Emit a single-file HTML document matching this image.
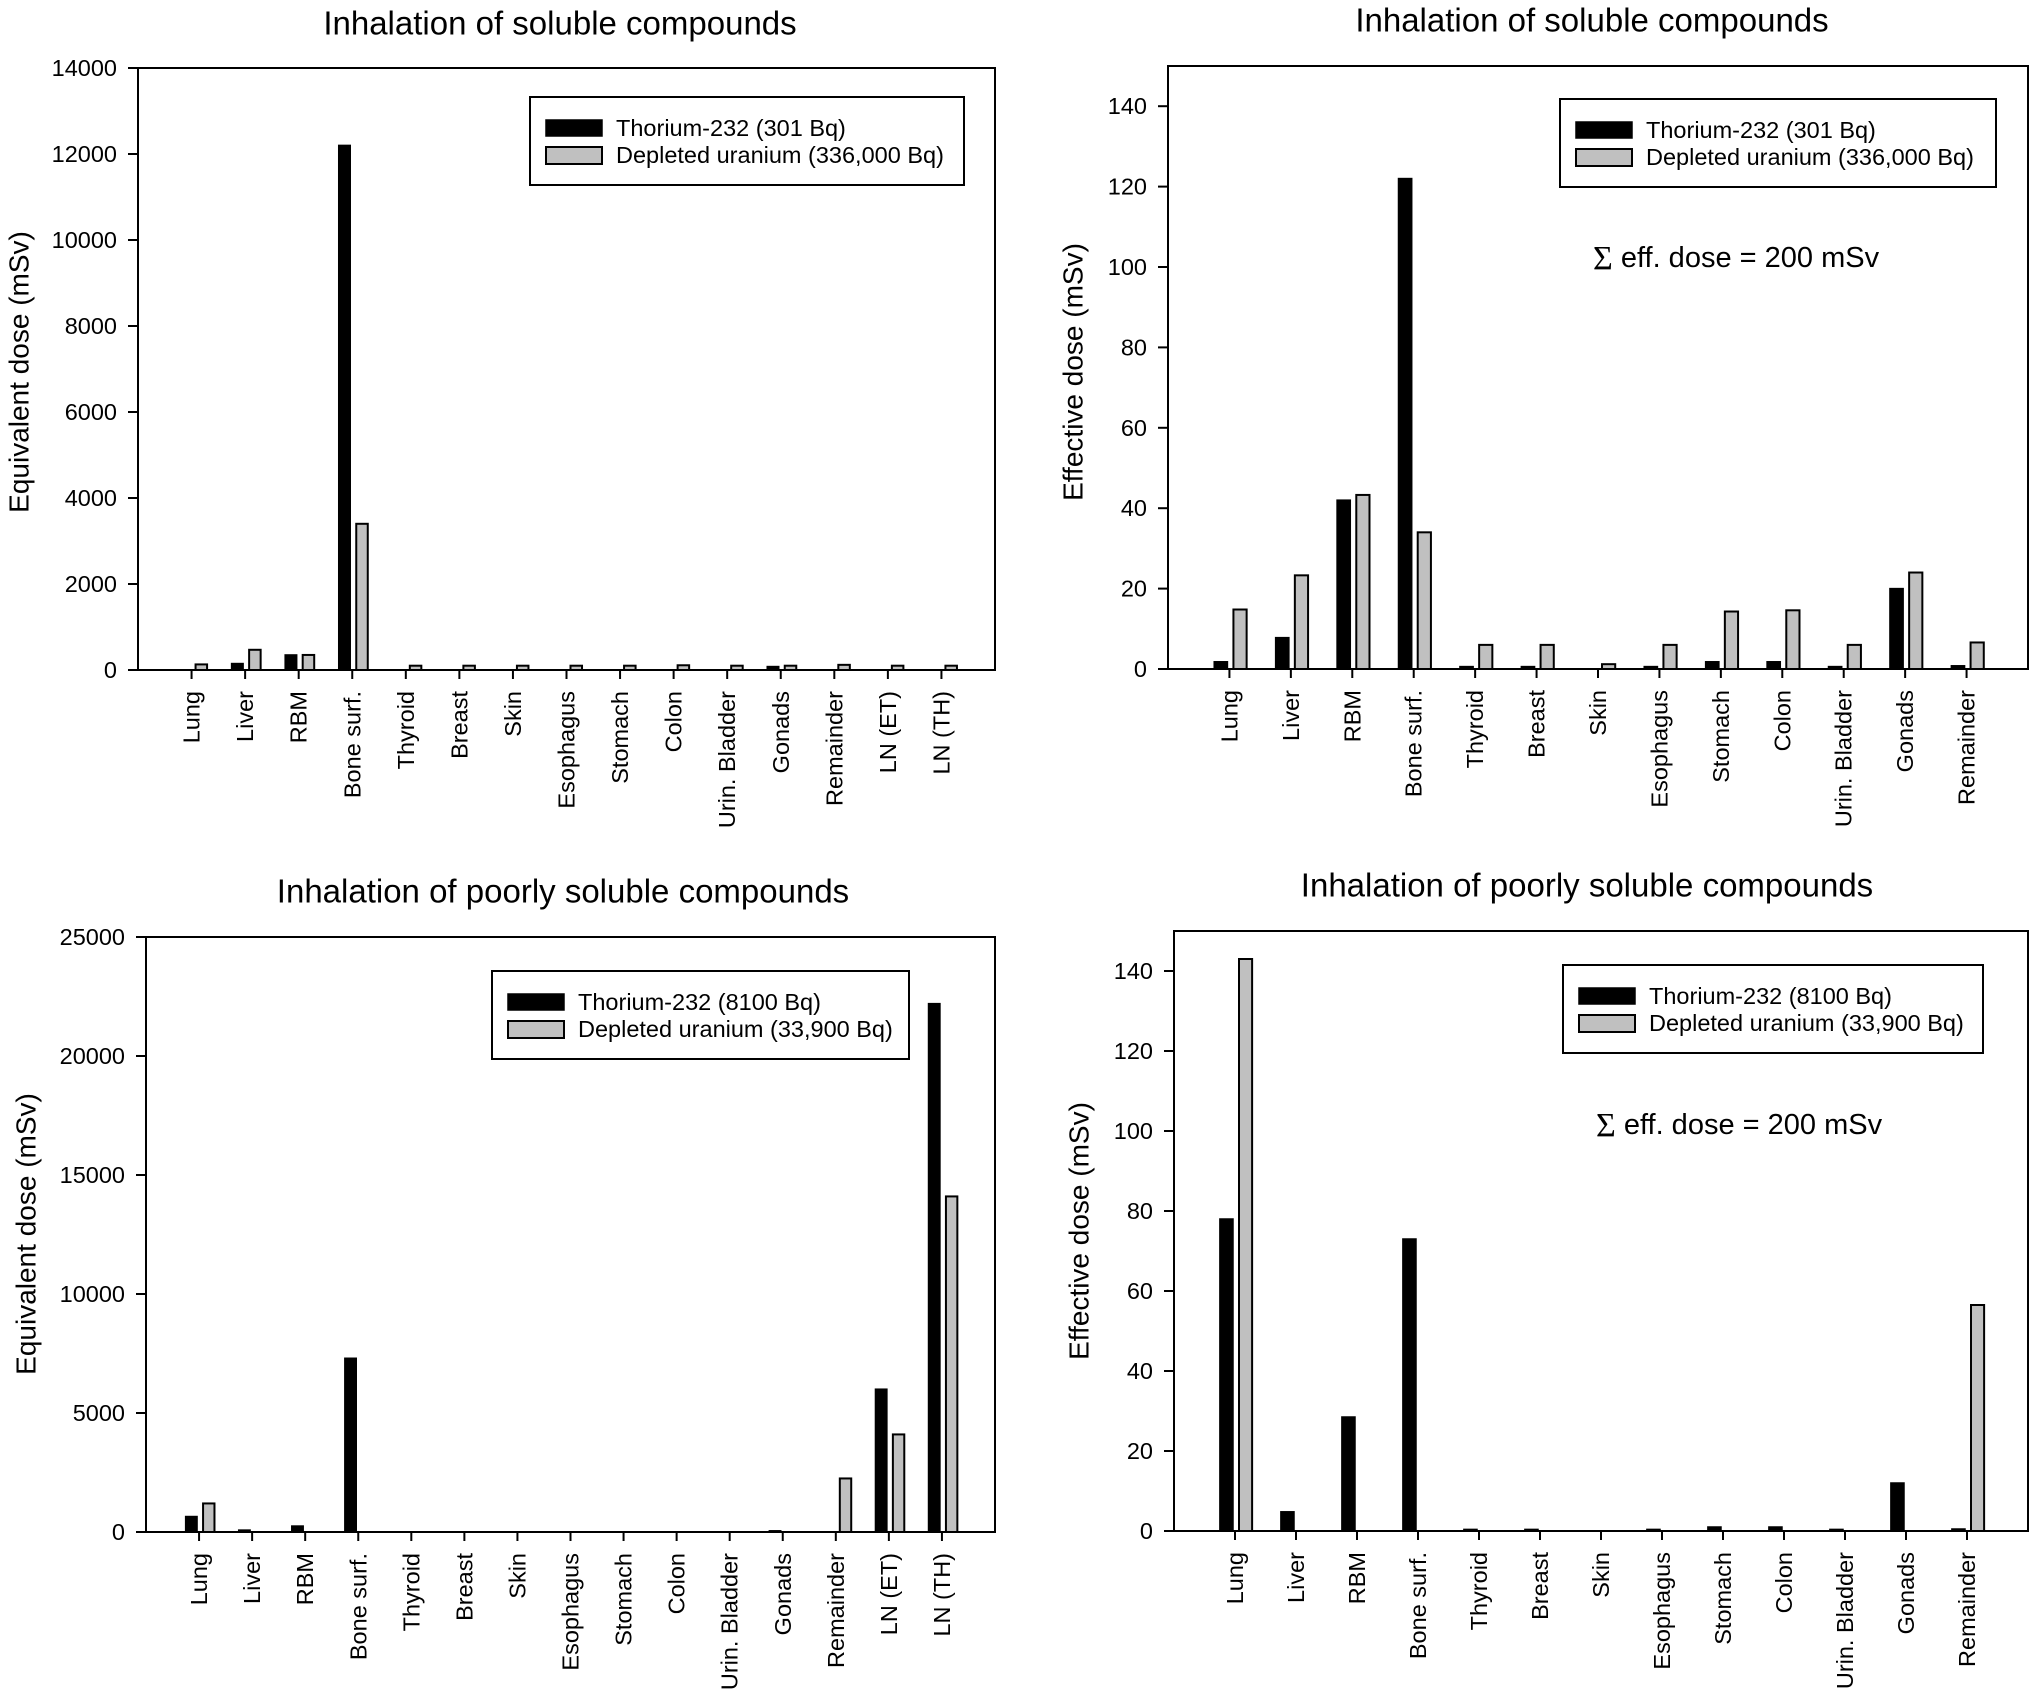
<!DOCTYPE html>
<html><head><meta charset="utf-8"><style>
html,body{margin:0;padding:0;background:#fff;}
svg{display:block;font-family:"Liberation Sans",Arial,sans-serif;}
</style></head><body>
<svg id="fig" width="2031" height="1691" viewBox="0 0 2031 1691" xmlns="http://www.w3.org/2000/svg"></svg>
<script>
// ---- data ----
const catsLong = ["Lung","Liver","RBM","Bone surf.","Thyroid","Breast","Skin","Esophagus","Stomach","Colon","Urin. Bladder","Gonads","Remainder","LN (ET)","LN (TH)"];
const catsShort = ["Lung","Liver","RBM","Bone surf.","Thyroid","Breast","Skin","Esophagus","Stomach","Colon","Urin. Bladder","Gonads","Remainder"];

const p1Thorium = [0,150,350,12200,0,0,0,0,0,0,0,80,0,0,0];
const p1Uranium = [130,470,350,3400,100,100,100,100,100,110,100,100,120,100,100];
const p1Ticks = [0,2000,4000,6000,8000,10000,12000,14000];

const p2Thorium = [1.8,7.8,42,122,0.6,0.6,0,0.6,1.8,1.8,0.6,20,0.8];
const p2Uranium = [14.8,23.3,43.3,34,6,6,1.2,6,14.3,14.6,6,24,6.6];
const p2Ticks = [0,20,40,60,80,100,120,140];

const p3Thorium = [650,80,250,7300,0,0,0,0,0,0,0,50,0,6000,22200];
const p3Uranium = [1200,0,0,0,0,0,0,0,0,0,0,0,2250,4100,14100];
const p3Ticks = [0,5000,10000,15000,20000,25000];

const p4Thorium = [78,4.8,28.5,73,0.4,0.4,0,0.4,1,1,0.4,12,0.5];
const p4Uranium = [143,0,0,0,0,0,0,0,0,0,0,0,56.5];
const p4Ticks = [0,20,40,60,80,100,120,140];

const NS = "http://www.w3.org/2000/svg";
const svg = document.getElementById("fig");
function mk(tag, attrs, parent, text){
  const e = document.createElementNS(NS, tag);
  for (const k in attrs) e.setAttribute(k, attrs[k]);
  if (text !== undefined) e.textContent = text;
  (parent||svg).appendChild(e);
  return e;
}

function panel(cfg){
  const g = mk("g", {});
  
  
  const {x0,x1,y0,yz,ymax} = cfg;
  const yScale = v => yz - v/ymax*(yz-y0);
  const n = cfg.cats.length;
  const band = (x1-x0)/(n+1);
  const xc = i => x0 + (i+1)*band;
  const bw = band*0.215;

  const t = mk("text",{x:cfg.titleX,y:cfg.titleY,"text-anchor":"middle","dominant-baseline":"central","font-size":33},g,cfg.title);
  
  

  cfg.th.forEach((v,i)=>{
    if (v<=0) return;
    const y = yScale(v);
    const r = mk("rect",{x:xc(i)-2-bw,y:y,width:bw,height:yz-y,fill:"#000",stroke:"#000","stroke-width":1.5},g);
    
    
  });
  cfg.du.forEach((v,i)=>{
    if (v<=0) return;
    const y = yScale(v);
    const r = mk("rect",{x:xc(i)+4,y:y,width:bw,height:yz-y,fill:"#c0c0c0",stroke:"#000","stroke-width":2},g);
    
    
  });

  const f = mk("rect",{x:x0,y:y0,width:x1-x0,height:yz-y0,fill:"none",stroke:"#000","stroke-width":2},g);
  
  

  cfg.ticks.forEach(v=>{
    const y = yScale(v);
    mk("line",{x1:x0-10,x2:x0,y1:y,y2:y,stroke:"#000","stroke-width":2},g);
    const l = mk("text",{x:x0-21,y:y,"text-anchor":"end","dominant-baseline":"central","font-size":23.5},g,String(v));
    
    
  });
  const yt = mk("text",{x:0,y:0,transform:`translate(${cfg.ytX},${cfg.ytY}) rotate(-90)`,"text-anchor":"middle","dominant-baseline":"central","font-size":28},g,cfg.yTitle);
  
  

  cfg.cats.forEach((c,i)=>{
    const x = xc(i);
    mk("line",{x1:x,x2:x,y1:yz,y2:yz+9,stroke:"#000","stroke-width":2},g);
    const l = mk("text",{x:0,y:0,transform:`translate(${x},${yz+21}) rotate(-90)`,"text-anchor":"end","dominant-baseline":"central","font-size":23.5},g,c);
    
    
  });

  const lg = mk("g",{},g);
  
  
  const L = cfg.leg;
  mk("rect",{x:L.x,y:L.y,width:L.w,height:88,fill:"#fff",stroke:"#000","stroke-width":2},lg);
  mk("rect",{x:L.x+16,y:L.y+23,width:56,height:16,fill:"#000",stroke:"#000","stroke-width":1.5},lg);
  mk("rect",{x:L.x+16,y:L.y+50,width:56,height:17,fill:"#c0c0c0",stroke:"#000","stroke-width":2},lg);
  const e1 = mk("text",{x:L.x+86,y:L.y+31,"dominant-baseline":"central","font-size":23.5},lg,cfg.leg1);
  
  
  const e2 = mk("text",{x:L.x+86,y:L.y+58,"dominant-baseline":"central","font-size":23.5},lg,cfg.leg2);
  
  

  if (cfg.sigma){
    const s = mk("text",{x:cfg.sigma.x,y:cfg.sigma.y,"dominant-baseline":"central","font-size":29},g);
    
    
    mk("tspan",{"font-family":"Liberation Serif, serif","font-size":34},s,"\u03A3");
    mk("tspan",{},s," eff. dose = 200 mSv");
  }
}

panel({name:"panel-soluble-equivalent",x0:138,x1:995,y0:68,yz:670,ymax:14000,cats:catsLong,th:p1Thorium,du:p1Uranium,ticks:p1Ticks,
  title:"Inhalation of soluble compounds",titleX:560,titleY:23,yTitle:"Equivalent dose (mSv)",ytX:19,ytY:372,
  leg:{x:530,y:97,w:434},leg1:"Thorium-232 (301 Bq)",leg2:"Depleted uranium (336,000 Bq)"});

panel({name:"panel-soluble-effective",x0:1168,x1:2028,y0:66,yz:669,ymax:150,cats:catsShort,th:p2Thorium,du:p2Uranium,ticks:p2Ticks,
  title:"Inhalation of soluble compounds",titleX:1592,titleY:20,yTitle:"Effective dose (mSv)",ytX:1073,ytY:372,
  leg:{x:1560,y:99,w:436},leg1:"Thorium-232 (301 Bq)",leg2:"Depleted uranium (336,000 Bq)",sigma:{x:1593,y:258}});

panel({name:"panel-poorly-soluble-equivalent",x0:146,x1:995,y0:937,yz:1532,ymax:25000,cats:catsLong,th:p3Thorium,du:p3Uranium,ticks:p3Ticks,
  title:"Inhalation of poorly soluble compounds",titleX:563,titleY:891,yTitle:"Equivalent dose (mSv)",ytX:26,ytY:1234,
  leg:{x:492,y:971,w:417},leg1:"Thorium-232 (8100 Bq)",leg2:"Depleted uranium (33,900 Bq)"});

panel({name:"panel-poorly-soluble-effective",x0:1174,x1:2028,y0:931,yz:1531,ymax:150,cats:catsShort,th:p4Thorium,du:p4Uranium,ticks:p4Ticks,
  title:"Inhalation of poorly soluble compounds",titleX:1587,titleY:885,yTitle:"Effective dose (mSv)",ytX:1079,ytY:1231,
  leg:{x:1563,y:965,w:420},leg1:"Thorium-232 (8100 Bq)",leg2:"Depleted uranium (33,900 Bq)",sigma:{x:1596,y:1125}});
</script>
</body></html>
